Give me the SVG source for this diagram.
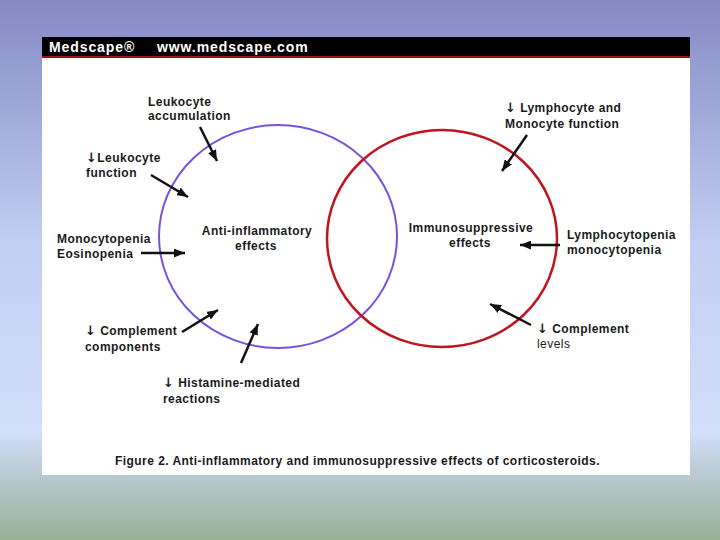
<svg xmlns="http://www.w3.org/2000/svg" width="720" height="540" viewBox="0 0 720 540">
  <defs>
    <linearGradient id="bg" x1="0" y1="0" x2="0" y2="1">
      <stop offset="0" stop-color="#858ac4"/>
      <stop offset="0.45" stop-color="#c2cef2"/>
      <stop offset="0.8" stop-color="#d3defa"/>
      <stop offset="0.87" stop-color="#bccbd6"/>
      <stop offset="1" stop-color="#97b196"/>
    </linearGradient>
    <marker id="ah" viewBox="0 0 10 8" refX="10" refY="4" markerWidth="11" markerHeight="9" markerUnits="userSpaceOnUse" orient="auto">
      <path d="M0,0 L10,4 L0,8 z" fill="#111"/>
    </marker>
    <style>
      .t { font-family: "Liberation Sans", Arial, sans-serif; font-size: 12px; font-weight: bold; fill: #1a1a1a; letter-spacing: 0.45px; }
      .n { font-weight: normal; }
      .c { text-anchor: middle; }
      .dn { font-family: "DejaVu Sans", sans-serif; font-weight: bold; font-size: 13px; }
      .hd { font-family: "Liberation Sans", Arial, sans-serif; font-size: 14px; font-weight: bold; fill: #ffffff; letter-spacing: 0.9px; }
      .ar { stroke: #111; stroke-width: 2.5; fill: none; marker-end: url(#ah); }
    </style>
  </defs>

  <rect x="0" y="0" width="720" height="540" fill="url(#bg)"/>

  <g id="panel">
    <rect x="42" y="37" width="648" height="438" fill="#ffffff"/>
    <rect x="42" y="37" width="648" height="20" fill="#000000"/>
    <rect x="42" y="56" width="648" height="2" fill="#a01018"/>
    <text class="hd" x="49" y="52">Medscape®</text>
    <text class="hd" x="157" y="52">www.medscape.com</text>
  </g>

  <g id="anti-inflammatory">
    <ellipse cx="278" cy="236.5" rx="119" ry="111.5" fill="none" stroke="#7652e0" stroke-width="2"/>
    <text class="t c" x="257" y="235">Anti-inflammatory</text>
    <text class="t c" x="256" y="250">effects</text>
  </g>

  <g id="immunosuppressive">
    <ellipse cx="442" cy="238.5" rx="115" ry="108.5" fill="none" stroke="#c0141e" stroke-width="2.5"/>
    <text class="t c" x="471" y="232">Immunosuppressive</text>
    <text class="t c" x="470" y="247">effects</text>
  </g>

  <g id="leukocyte-accumulation">
    <text class="t" x="148" y="106">Leukocyte</text>
    <text class="t" x="148" y="120">accumulation</text>
  </g>
  <g id="leukocyte-function">
    <text class="t" x="86" y="162"><tspan class="dn">↓</tspan>Leukocyte</text>
    <text class="t" x="86" y="177">function</text>
  </g>
  <g id="monocytopenia">
    <text class="t" x="57" y="243">Monocytopenia</text>
    <text class="t" x="57" y="258">Eosinopenia</text>
  </g>
  <g id="complement-components">
    <text class="t" x="85" y="335"><tspan class="dn">↓</tspan> Complement</text>
    <text class="t" x="85" y="351">components</text>
  </g>
  <g id="histamine">
    <text class="t" x="163" y="387"><tspan class="dn">↓</tspan> Histamine-mediated</text>
    <text class="t" x="163" y="403">reactions</text>
  </g>
  <g id="lymphocyte-function">
    <text class="t" x="505" y="112"><tspan class="dn">↓</tspan> Lymphocyte and</text>
    <text class="t" x="505" y="128">Monocyte function</text>
  </g>
  <g id="lymphocytopenia">
    <text class="t" x="567" y="239">Lymphocytopenia</text>
    <text class="t" x="567" y="254">monocytopenia</text>
  </g>
  <g id="complement-levels">
    <text class="t" x="537" y="333"><tspan class="dn">↓</tspan> Complement</text>
    <text class="t n" x="537" y="348">levels</text>
  </g>

  <g id="connectors">
    <line class="ar" x1="200" y1="127" x2="217" y2="161"/>
    <line class="ar" x1="151" y1="175" x2="188" y2="197"/>
    <line class="ar" x1="141" y1="253" x2="185" y2="253"/>
    <line class="ar" x1="182" y1="332" x2="218" y2="310"/>
    <line class="ar" x1="241" y1="363" x2="258" y2="324"/>
    <line class="ar" x1="527" y1="135" x2="502" y2="171"/>
    <line class="ar" x1="560" y1="245" x2="520" y2="245"/>
    <line class="ar" x1="531" y1="325" x2="490" y2="304"/>
  </g>

  <g id="caption">
    <text class="t" x="115" y="465">Figure 2. Anti-inflammatory and immunosuppressive effects of corticosteroids.</text>
  </g>
</svg>
